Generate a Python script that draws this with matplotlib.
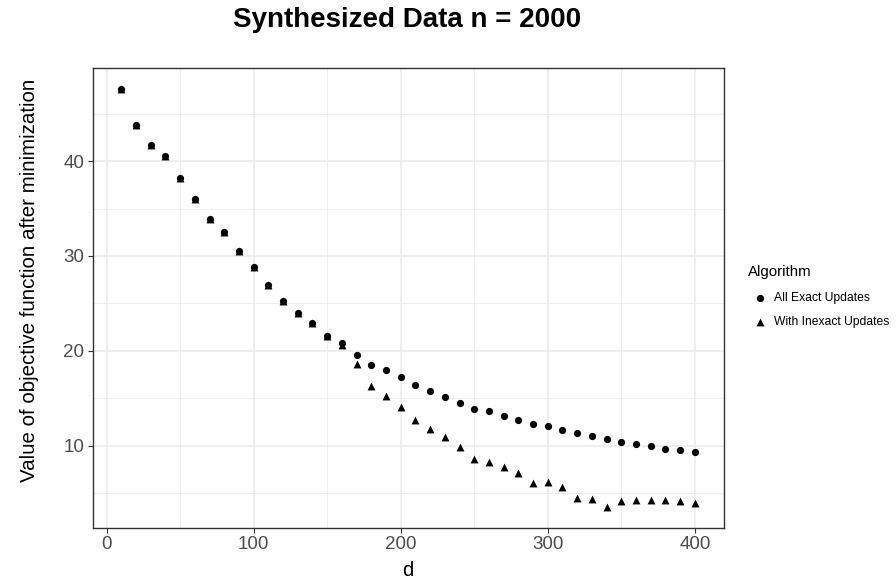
import numpy as np
import matplotlib.pyplot as plt
from matplotlib.ticker import MultipleLocator

plt.rcParams["font.family"] = ["Liberation Sans", "DejaVu Sans"]

d = np.arange(10, 401, 10)

exact = [47.6, 43.8, 41.7, 40.6, 38.2, 36.0, 33.9, 32.5, 30.5, 28.8,
         26.9, 25.3, 24.0, 22.9, 21.6, 20.8, 19.5, 18.45, 18.0, 17.2,
         16.4, 15.7, 15.15, 14.5, 13.9, 13.6, 13.1, 12.7, 12.3, 12.05,
         11.65, 11.35, 11.05, 10.7, 10.4, 10.15, 9.95, 9.65, 9.5, 9.35]

inexact = [47.6, 43.8, 41.7, 40.6, 38.2, 36.0, 33.9, 32.5, 30.5, 28.8,
           26.9, 25.3, 24.0, 22.9, 21.6, 20.6, 18.55, 16.3, 15.2, 14.1,
           12.7, 11.75, 10.85, 9.8, 8.55, 8.25, 7.7, 7.15, 6.05, 6.15,
           5.6, 4.5, 4.35, 3.5, 4.1, 4.3, 4.25, 4.2, 4.15, 3.9]

labels = ["All Exact Updates", "With Inexact Updates"]

fig = plt.figure(figsize=(8.96, 5.82), dpi=100)
ax = fig.add_axes([0.1034, 0.0928, 0.7041, 0.7898])

ax.scatter(d, exact, marker="o", s=27, color="black", linewidths=0,
           label=labels[0], zorder=3)
ax.scatter(d, inexact, marker="^", s=32, color="black", linewidths=0,
           label=labels[1], zorder=3)

# ggplot-like expansion of 5%
xr = d.max() - d.min()
ax.set_xlim(d.min() - 0.05 * xr, d.max() + 0.05 * xr)
ymin = min(min(exact), min(inexact))
ymax = max(max(exact), max(inexact))
yr = ymax - ymin
ax.set_ylim(ymin - 0.05 * yr, ymax + 0.05 * yr)

ax.xaxis.set_major_locator(MultipleLocator(100))
ax.xaxis.set_minor_locator(MultipleLocator(50))
ax.yaxis.set_major_locator(MultipleLocator(10))
ax.yaxis.set_minor_locator(MultipleLocator(5))

ax.grid(which="major", color="#EBEBEB", linewidth=1.1, zorder=0)
ax.grid(which="minor", color="#EBEBEB", linewidth=0.55, zorder=0)
ax.set_axisbelow(True)

for sp in ax.spines.values():
    sp.set_color("#333333")
    sp.set_linewidth(1.0)

ax.tick_params(which="major", length=3.5, width=0.8, color="#333333",
               labelcolor="#4D4D4D", labelsize=13.5, pad=2.5)
ax.tick_params(which="minor", length=0)

ax.set_xlabel("d", fontsize=14.5, color="black", va="top")
ax.xaxis.set_label_coords(0.5, -0.071)
ax.set_ylabel("Value of objective function after minimization",
              fontsize=14.8, color="black")
ax.yaxis.set_label_coords(-0.085, 0.539)

fig.text(0.4548, 0.9541, "Synthesized Data n = 2000", fontsize=20,
         fontweight="bold", ha="center", va="baseline")

fig.legend(loc="upper left", bbox_to_anchor=(0.829, 0.553),
           title="Algorithm", frameon=False, fontsize=8.7,
           title_fontsize=10.8, handletextpad=0.2, labelspacing=1.05,
           alignment="left", markerscale=1.0, borderaxespad=0)

fig.savefig("out.png", dpi=100)
